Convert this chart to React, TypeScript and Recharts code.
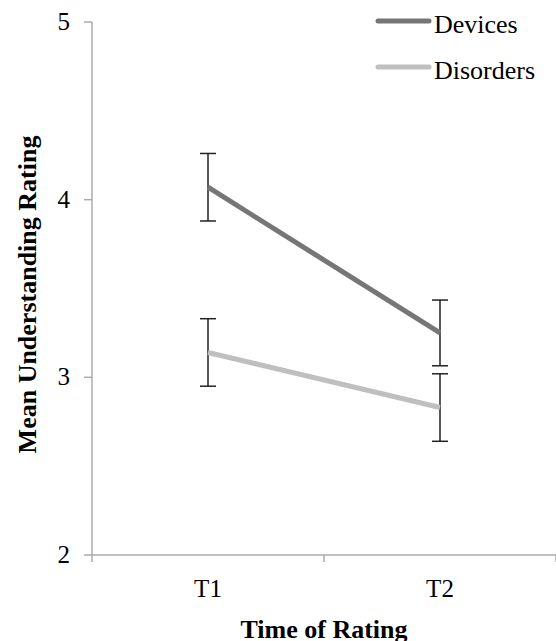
import { LineChart, Line, XAxis, YAxis, ErrorBar, Legend } from 'recharts'

const categories = ['T1', 'T2']
const devices = [4.07, 3.25]
const devicesErr = [0.19, 0.185]
const disorders = [3.14, 2.83]
const disordersErr = [0.19, 0.19]
const yTicks = [2, 3, 4, 5]

const AXIS = '#ababab'
const FONT = '"Liberation Serif", "Times New Roman", serif'

// categories sit at the middle of each band, tick marks at the band edges
const chartData = categories.map((name, i) => ({
  x: i + 0.5,
  name,
  devices: devices[i],
  devicesErr: devicesErr[i],
  disorders: disorders[i],
  disordersErr: disordersErr[i],
}))

const TICK_SIZE = 7

function XTick(props: any) {
  const { x, y, payload } = props
  const axisY = y - TICK_SIZE
  const v = payload.value
  if (Number.isInteger(v)) {
    return <line x1={x} y1={axisY} x2={x} y2={axisY + TICK_SIZE} stroke={AXIS} strokeWidth={1.5} />
  }
  return (
    <text x={x} y={axisY + 42} textAnchor="middle" fontSize={25} style={{ fontFamily: FONT }} fill="#000">
      {categories[Math.floor(v)]}
    </text>
  )
}

function YTick(props: any) {
  const { x, y, payload } = props
  return (
    <text x={x} y={y + 8} textAnchor="end" fontSize={25} style={{ fontFamily: FONT }} fill="#000">
      {payload.value}
    </text>
  )
}

function YLabel(props: any) {
  const { viewBox } = props
  const cx = 36
  const cy = viewBox.y + viewBox.height / 2 + 6
  return (
    <text
      x={cx}
      y={cy}
      transform={`rotate(-90 ${cx} ${cy})`}
      textAnchor="middle"
      fontSize={26}
      fontWeight="bold"
      style={{ fontFamily: FONT }}
      fill="#000"
    >
      Mean Understanding Rating
    </text>
  )
}

function XLabel(props: any) {
  const { viewBox } = props
  return (
    <text
      x={viewBox.x + viewBox.width / 2}
      y={viewBox.y + viewBox.height - 3}
      textAnchor="middle"
      fontSize={26}
      fontWeight="bold"
      style={{ fontFamily: FONT }}
      fill="#000"
    >
      Time of Rating
    </text>
  )
}

function LegendContent(props: any) {
  const { payload } = props
  return (
    <svg width={180} height={90} style={{ display: 'block' }}>
      {payload.map((p: any, i: number) => (
        <g key={p.value}>
          <line x1={3} y1={21 + i * 46} x2={54} y2={21 + i * 46} stroke={p.color} strokeWidth={5} strokeLinecap="round" />
          <text x={59} y={33 + i * 46} fontSize={26} style={{ fontFamily: FONT }} fill="#000">
            {p.value}
          </text>
        </g>
      ))}
    </svg>
  )
}

export default function App() {
  return (
    <div style={{ position: 'absolute', left: 0, top: 0, background: '#fff' }}>
      <LineChart width={556} height={641} data={chartData} margin={{ top: 22, right: 0, left: 0, bottom: 0 }}>
        <XAxis
          type="number"
          dataKey="x"
          domain={[0, 2]}
          ticks={[0, 0.5, 1, 1.5, 2]}
          interval={0}
          height={86}
          tickLine={false}
          tickSize={TICK_SIZE}
          tickMargin={0}
          tick={<XTick />}
          axisLine={{ stroke: AXIS, strokeWidth: 1.5 }}
          label={<XLabel />}
        />
        <YAxis
          type="number"
          domain={[2, 5]}
          ticks={yTicks}
          interval={0}
          width={92}
          tickSize={8}
          tickMargin={14}
          tick={<YTick />}
          tickLine={{ stroke: AXIS, strokeWidth: 1.5 }}
          axisLine={{ stroke: AXIS, strokeWidth: 1.5 }}
          label={<YLabel />}
        />
        <Legend
          verticalAlign="top"
          align="right"
          content={<LegendContent />}
          wrapperStyle={{ position: 'absolute', top: 0, left: 375, width: 180, height: 0, overflow: 'visible' }}
        />
        <Line
          dataKey="devices"
          name="Devices"
          stroke="#767676"
          strokeWidth={5}
          dot={false}
          isAnimationActive={false}
        >
          <ErrorBar dataKey="devicesErr" width={8} stroke="#222" strokeWidth={1.5} direction="y" />
        </Line>
        <Line
          dataKey="disorders"
          name="Disorders"
          stroke="#bfbfbf"
          strokeWidth={5}
          dot={false}
          isAnimationActive={false}
        >
          <ErrorBar dataKey="disordersErr" width={8} stroke="#222" strokeWidth={1.5} direction="y" />
        </Line>
      </LineChart>
    </div>
  )
}
